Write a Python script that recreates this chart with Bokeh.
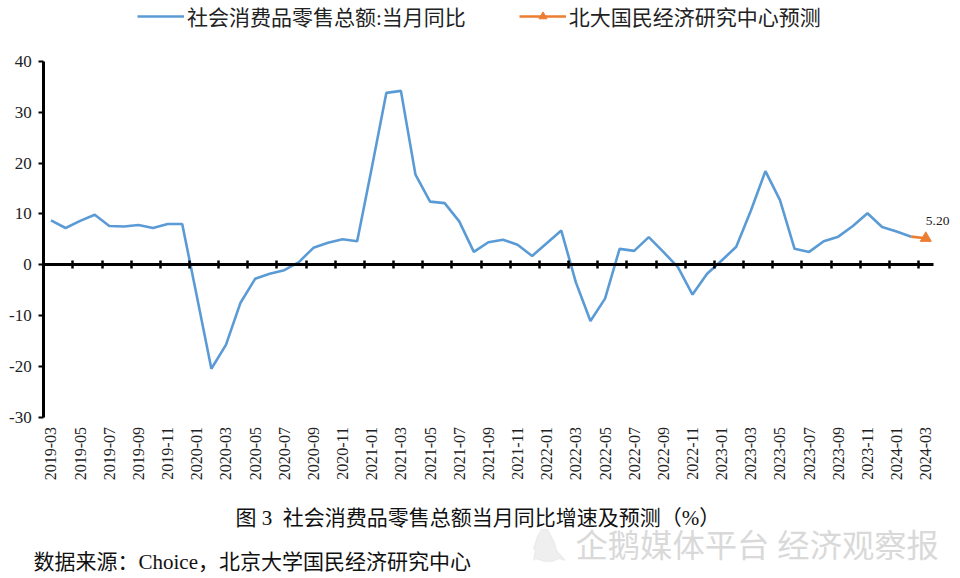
import math
from bokeh.plotting import figure
from bokeh.embed import file_html
from bokeh.resources import INLINE
from bokeh.models import (Range1d, LinearAxis, FixedTicker, Legend, LegendItem, Label, ColumnDataSource, PolyAnnotation)

months = [f"{y}-{m:02d}" for y in range(2019, 2025) for m in range(1, 13)][2:63]
actual = [8.7, 7.2, 8.6, 9.8, 7.6, 7.5, 7.8, 7.2, 8.0, 8.0,
          -6.2, -20.5, -15.8, -7.5, -2.8, -1.8, -1.1, 0.5, 3.3, 4.3, 5.0, 4.6,
          19.0, 33.8, 34.2, 17.7, 12.4, 12.1, 8.5, 2.5, 4.4, 4.9, 3.9, 1.7,
          4.2, 6.7, -3.5, -11.1, -6.7, 3.1, 2.7, 5.4, 2.5, -0.5, -5.9, -1.8,
          0.8, 3.5, 10.6, 18.4, 12.7, 3.1, 2.5, 4.6, 5.5, 7.6, 10.1, 7.4,
          6.5, 5.5]
forecast = [5.5, 5.2]
forecast_months = months[-2:]
y_ticks = [-30, -20, -10, 0, 10, 20, 30, 40]
series_names = ["社会消费品零售总额:当月同比", "北大国民经济研究中心预测"]
caption = "图 3\u00a0\u00a0社会消费品零售总额当月同比增速及预测（%）"
source_note = "数据来源：Choice，北京大学国民经济研究中心"
watermark = "企鹅媒体平台 经济观察报"
forecast_label = "5.20"

FONT = "Liberation Serif, Noto Sans CJK SC"
idx = {m: i for i, m in enumerate(months)}

# the frame fills the canvas so that legend and notes outside the axes are not clipped
W, H = 960, 578
X_UNIT, Y_UNIT = 14.58, 5.08
x_start = -0.5 - 43.2 / X_UNIT
x_end = x_start + W / X_UNIT
y_end = 264.1 / Y_UNIT
y_start = y_end - H / Y_UNIT

p = figure(width=W, height=H, output_backend="svg", toolbar_location=None,
           x_range=Range1d(x_start, x_end), y_range=Range1d(y_start, y_end),
           x_axis_location=None, y_axis_location=None,
           min_border=0)
p.outline_line_color = None
p.grid.visible = False
p.background_fill_color = "white"

yaxis = LinearAxis(fixed_location=-0.5, bounds=(-30, 40), ticker=FixedTicker(ticks=y_ticks),
                   major_label_overrides={t: str(t) for t in y_ticks})
yaxis.axis_line_color = "black"; yaxis.axis_line_width = 3
yaxis.major_tick_line_color = "black"; yaxis.major_tick_line_width = 2
yaxis.major_tick_in = 0; yaxis.major_tick_out = 5
yaxis.minor_tick_line_color = None
yaxis.major_label_text_font = FONT
yaxis.major_label_text_font_size = "17px"
yaxis.major_label_text_color = "#222222"
yaxis.major_label_standoff = 7
p.add_layout(yaxis, "left")

xlabels = LinearAxis(fixed_location=-30, ticker=FixedTicker(ticks=list(range(0, 61, 2))),
                     major_label_overrides={i: months[i] for i in range(0, 61, 2)})
xlabels.axis_line_color = None
xlabels.major_tick_line_color = None
xlabels.minor_tick_line_color = None
xlabels.major_label_orientation = math.pi / 2
xlabels.major_label_text_font = FONT
xlabels.major_label_text_font_size = "16px"
xlabels.major_label_text_color = "#222222"
xlabels.major_label_standoff = 4
p.add_layout(xlabels, "below")

zero = LinearAxis(fixed_location=0, bounds=(-0.5, 60.5), ticker=FixedTicker(ticks=[i + 1.5 for i in range(0, 60, 2)]),
                  major_label_overrides={i + 1.5: "" for i in range(0, 60, 2)})
zero.axis_line_color = "black"; zero.axis_line_width = 3
zero.major_tick_line_color = "black"; zero.major_tick_line_width = 2.5
zero.major_tick_in = 4; zero.major_tick_out = 4
zero.minor_tick_line_color = None
zero.major_label_text_color = None
zero.major_label_text_font_size = "1px"
p.add_layout(zero, "below")

src_a = ColumnDataSource(dict(x=[idx[m] for m in months[:len(actual)]], y=actual))
src_f = ColumnDataSource(dict(x=[idx[m] for m in forecast_months], y=forecast))
src_m = ColumnDataSource(dict(x=[idx[forecast_months[-1]]], y=forecast[-1:]))
l1 = p.line("x", "y", source=src_a, line_color="#5B9BD5", line_width=2.6)
l2 = p.line("x", "y", source=src_f, line_color="#ED7D31", line_width=2.6)
m2 = p.scatter("x", "y", source=src_m, marker="triangle", size=11, fill_color="#ED7D31", line_color="#ED7D31")

legend = Legend(items=[LegendItem(label=series_names[0], renderers=[l1]),
                       LegendItem(label=series_names[1], renderers=[l2, m2])],
                orientation="horizontal", location=(137, 547),
                background_fill_alpha=0, border_line_color=None,
                glyph_width=47, glyph_height=20, label_text_font=FONT,
                label_text_font_size="21px", label_text_color="#222222",
                spacing=53, label_standoff=3, margin=0, padding=0)
p.add_layout(legend, "center")

p.add_layout(Label(x=idx[forecast_months[-1]], y=forecast[-1], text=forecast_label, x_offset=0, y_offset=17,
                   text_font=FONT, text_font_size="13.5px", text_color="#222222", text_baseline="middle"))

def note(x, y, text, size, color="#111111"):
    p.add_layout(Label(x=x, y=y, x_units="screen", y_units="screen", text=text, text_font=FONT,
                       text_font_size=size, text_color=color, text_baseline="middle"))

note(235, 61, caption, "21px")
note(33, 17, source_note, "21px")
note(575, 33, watermark, "32.3px", "#d9d9d9")

# watermark's penguin icon: outline in canvas pixels
penguin_x = [533, 537, 541, 547, 551, 554, 556, 563, 565, 559, 551, 544, 535, 533, 535]
penguin_y = [30, 42, 49, 49, 42, 36, 28, 20, 18, 20, 17, 17, 20, 18, 28]
p.add_layout(PolyAnnotation(xs=penguin_x, ys=penguin_y, xs_units="screen", ys_units="screen",
                            fill_color="#efefef", fill_alpha=1, line_color="#dcdcdc", line_width=1.5))

open("out.html", "w").write(file_html(p, INLINE))
